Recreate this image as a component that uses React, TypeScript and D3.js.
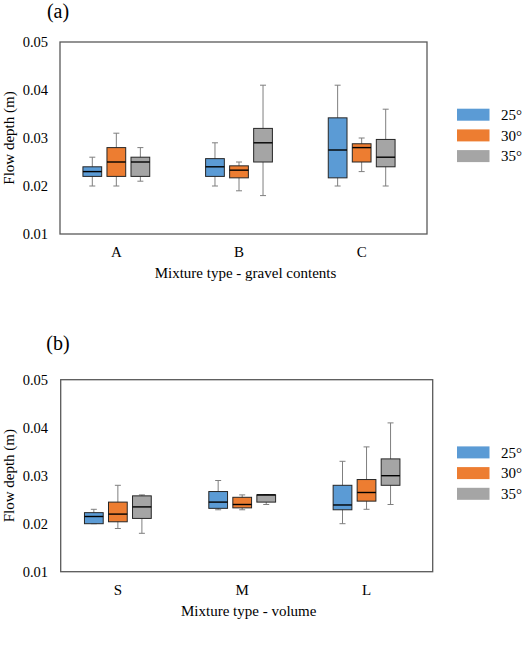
import React, { useEffect, useRef } from 'react'
import * as d3 from 'd3'

// box stats per category: [min, q1, median, q3, max]
const seriesNames = ['25°', '30°', '35°']
const seriesColors = ['#5B9BD5', '#ED7D31', '#A5A5A5']

const gravelCategories = ['A', 'B', 'C']
const gravel25 = [
    [0.020, 0.022, 0.023, 0.024, 0.026],
    [0.020, 0.022, 0.024, 0.0257, 0.029],
    [0.020, 0.0217, 0.0275, 0.0342, 0.041],
]
const gravel30 = [
    [0.020, 0.022, 0.025, 0.028, 0.031],
    [0.019, 0.0217, 0.0233, 0.0242, 0.025],
    [0.023, 0.025, 0.028, 0.0288, 0.030],
]
const gravel35 = [
    [0.021, 0.022, 0.025, 0.026, 0.028],
    [0.018, 0.025, 0.029, 0.032, 0.041],
    [0.020, 0.024, 0.026, 0.0297, 0.036],
]

const volumeCategories = ['S', 'M', 'L']
const volume25 = [
    [0.020, 0.020, 0.0215, 0.0223, 0.023],
    [0.0229, 0.0232, 0.0245, 0.0267, 0.029],
    [0.020, 0.0229, 0.0239, 0.028, 0.033],
]
const volume30 = [
    [0.019, 0.0204, 0.022, 0.0245, 0.028],
    [0.0229, 0.0233, 0.024, 0.0255, 0.026],
    [0.023, 0.0247, 0.0265, 0.0292, 0.036],
]
const volume35 = [
    [0.018, 0.0211, 0.0235, 0.0258, 0.026],
    [0.024, 0.0245, 0.026, 0.026, 0.026],
    [0.024, 0.028, 0.030, 0.0335, 0.041],
]

const yTicks = [0.01, 0.02, 0.03, 0.04, 0.05]

const FONT = '"Liberation Serif", "Times New Roman", serif'

function drawPanel(root, cfg) {
    const { title, titleY, categories, series, xTitle, top, bottom, left, right, catY, xTitleY } = cfg
    const g = root.append('g')

    const y = d3.scaleLinear().domain([0.01, 0.05]).range([bottom, top])
    const x = d3.scaleBand().domain(categories).range([left - 5, right - 4])
    const inner = d3.scaleBand().domain(seriesNames).range([-33.4, 33.4]).paddingInner(0.22)
    const bw = inner.bandwidth()

    g.append('text')
        .attr('x', 58)
        .attr('y', titleY)
        .attr('text-anchor', 'middle')
        .style('font-size', '20px')
        .text(title)

    // frame
    g.append('rect')
        .attr('x', left)
        .attr('y', top)
        .attr('width', right - left)
        .attr('height', bottom - top)
        .attr('fill', 'none')
        .attr('stroke', '#595959')
        .attr('stroke-width', 1.3)

    // y tick labels
    g.append('g')
        .selectAll('text')
        .data(yTicks)
        .join('text')
        .attr('x', 48)
        .attr('y', d => y(d))
        .attr('dy', '0.35em')
        .attr('text-anchor', 'end')
        .style('font-size', '14.5px')
        .text(d => d3.format('.2f')(d))

    g.append('text')
        .attr('transform', `translate(14,${(top + bottom) / 2}) rotate(-90)`)
        .attr('text-anchor', 'middle')
        .style('font-size', '15px')
        .text('Flow depth (m)')

    // category labels
    g.append('g')
        .selectAll('text')
        .data(categories)
        .join('text')
        .attr('x', d => x(d) + x.bandwidth() / 2)
        .attr('y', catY)
        .attr('text-anchor', 'middle')
        .style('font-size', '15px')
        .text(d => d)

    g.append('text')
        .attr('x', (left + right) / 2 + 2)
        .attr('y', xTitleY)
        .attr('text-anchor', 'middle')
        .style('font-size', '15px')
        .text(xTitle)

    // boxes
    series.forEach((vals, si) => {
        const name = seriesNames[si]
        const boxes = g.append('g')
            .selectAll('g')
            .data(vals.map((v, i) => ({ cat: categories[i], v })))
            .join('g')
            .attr('transform', d => `translate(${x(d.cat) + x.bandwidth() / 2 + inner(name)},0)`)

        boxes.append('line')
            .attr('x1', bw / 2).attr('x2', bw / 2)
            .attr('y1', d => y(d.v[0])).attr('y2', d => y(d.v[4]))
            .attr('stroke', '#7f7f7f')
        boxes.selectAll('line.cap')
            .data(d => [d.v[0], d.v[4]])
            .join('line')
            .attr('class', 'cap')
            .attr('x1', bw / 2 - 3).attr('x2', bw / 2 + 3)
            .attr('y1', d => y(d)).attr('y2', d => y(d))
            .attr('stroke', '#7f7f7f')
        boxes.append('rect')
            .attr('x', 0)
            .attr('width', bw)
            .attr('y', d => y(d.v[3]))
            .attr('height', d => y(d.v[1]) - y(d.v[3]))
            .attr('fill', seriesColors[si])
            .attr('stroke', '#262626')
            .attr('stroke-width', 1)
        boxes.append('line')
            .attr('x1', 0).attr('x2', bw)
            .attr('y1', d => y(d.v[2])).attr('y2', d => y(d.v[2]))
            .attr('stroke', '#000')
            .attr('stroke-width', 1.4)
    })

    // legend
    const legend = g.append('g')
        .selectAll('g')
        .data(seriesNames)
        .join('g')
        .attr('transform', (d, i) => `translate(457,${top + 66.7 + i * 20.7})`)
    legend.append('rect')
        .attr('width', 32.5)
        .attr('height', 12)
        .attr('fill', (d, i) => seriesColors[i])
    legend.append('text')
        .attr('x', 44)
        .attr('y', 6)
        .attr('dy', '0.35em')
        .style('font-size', '15px')
        .text(d => d)
}

function App() {
    const ref = useRef(null)

    useEffect(() => {
        const svg = d3.select(ref.current)
        svg.selectAll('*').remove()
        drawPanel(svg, {
            title: '(a)', titleY: 18,
            categories: gravelCategories,
            series: [gravel25, gravel30, gravel35],
            xTitle: 'Mixture type - gravel contents',
            top: 42, bottom: 234, left: 60, right: 427,
            catY: 257, xTitleY: 278,
        })
        drawPanel(svg, {
            title: '(b)', titleY: 350,
            categories: volumeCategories,
            series: [volume25, volume30, volume35],
            xTitle: 'Mixture type - volume',
            top: 379.7, bottom: 571.7, left: 60.7, right: 432.7,
            catY: 595, xTitleY: 616,
        })
    }, [])

    return (
        <svg
            ref={ref}
            width={530}
            height={647}
            style={{ position: 'absolute', left: 0, top: 0, background: '#fff', fontFamily: FONT }}
        />
    )
}

export default App
